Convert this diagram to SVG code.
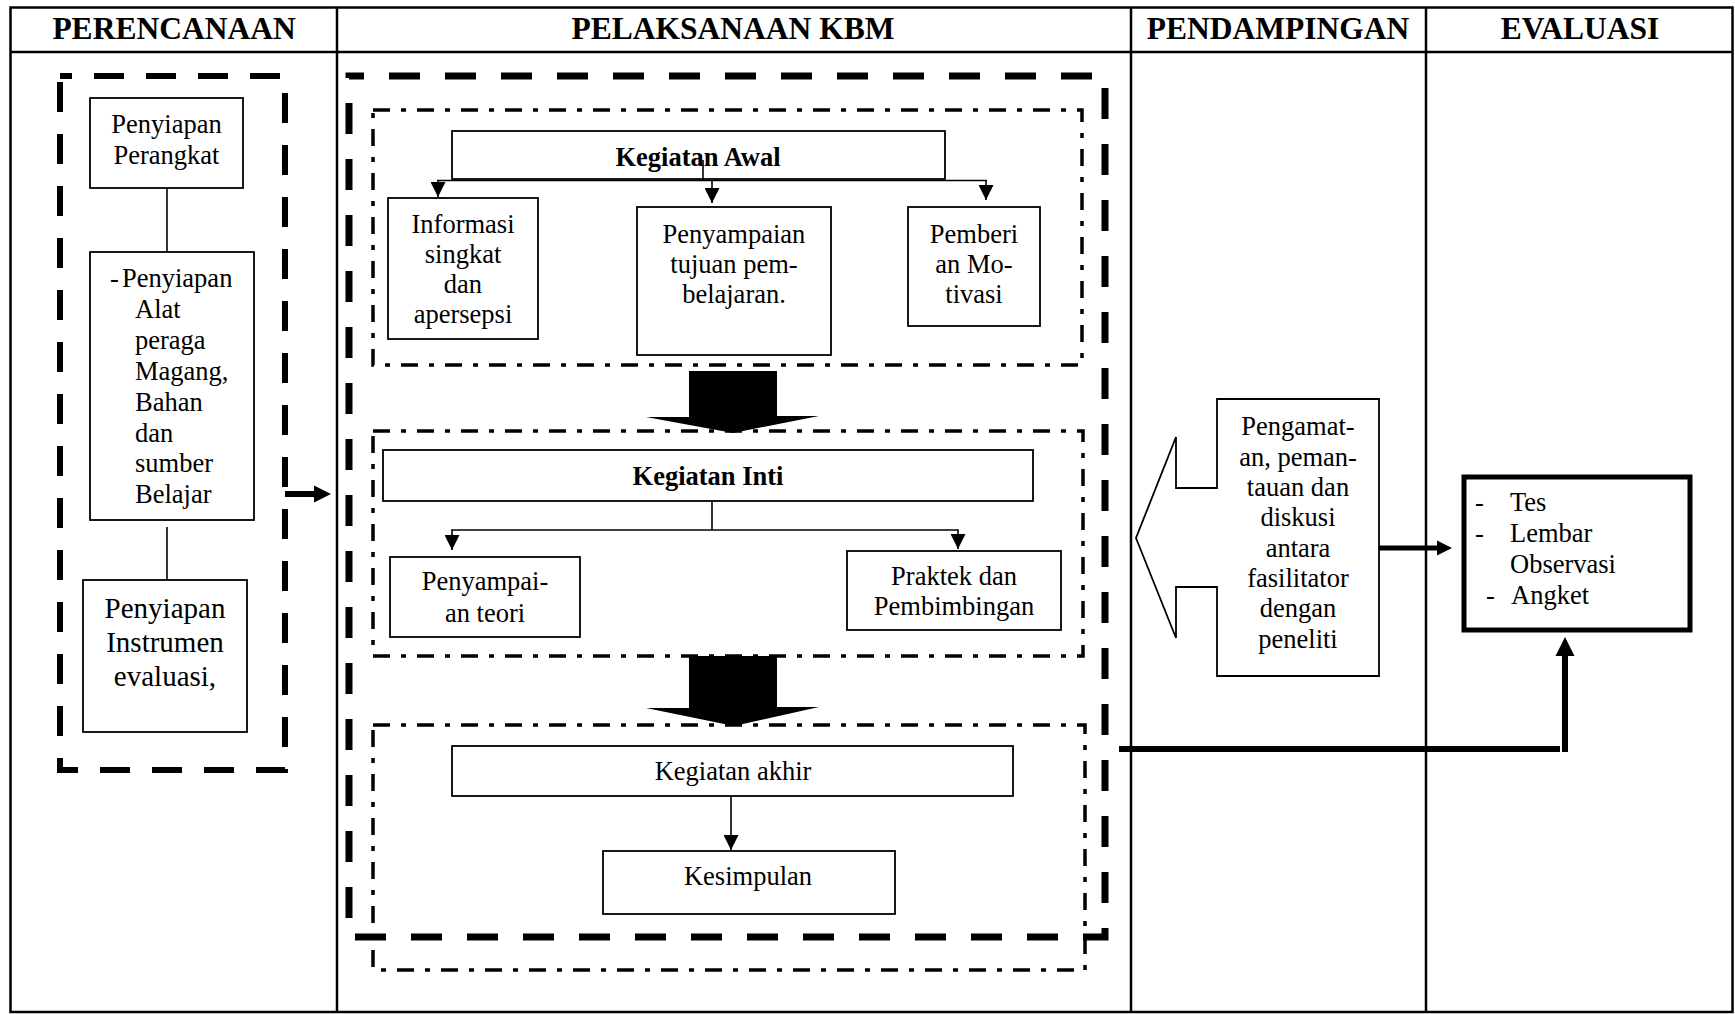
<svg xmlns="http://www.w3.org/2000/svg" width="1735" height="1014" viewBox="0 0 1735 1014">
<defs>
<style>
.t{font-family:"Liberation Serif","Times New Roman",serif;font-size:26.5px;fill:#000;text-anchor:middle}
.tl{text-anchor:start}
.b{font-weight:bold}
.h{font-family:"Liberation Serif","Times New Roman",serif;font-size:31.5px;font-weight:bold;fill:#000;text-anchor:middle}
.box{fill:#fff;stroke:#000;stroke-width:1.8}
.grid{fill:none;stroke:#000;stroke-width:2.5}
.thin{fill:none;stroke:#000;stroke-width:1.6}
.dd{fill:none;stroke:#000;stroke-width:3.5;stroke-dasharray:17 11 5 11}
.dashL{fill:none;stroke:#000;stroke-width:6;stroke-dasharray:30 22}
.dashB{fill:none;stroke:#000;stroke-width:7;stroke-dasharray:31 25}
.thick{fill:none;stroke:#000;stroke-width:6}
</style>
<marker id="ah" markerUnits="userSpaceOnUse" markerWidth="15" markerHeight="15" refX="15" refY="7.5" orient="auto">
<path d="M0,0 L15,7.5 L0,15 z" fill="#000"/>
</marker>
</defs>
<rect width="1735" height="1014" fill="#fff"/>

<g id="table">
<rect class="grid" x="10.5" y="7.5" width="1722" height="1004.5"/>
<line class="grid" x1="10.5" y1="52" x2="1732.5" y2="52"/>
<line class="grid" x1="337" y1="7.5" x2="337" y2="1012"/>
<line class="grid" x1="1131" y1="7.5" x2="1131" y2="1012"/>
<line class="grid" x1="1426" y1="7.5" x2="1426" y2="1012"/>
<text class="h" x="174" y="39">PERENCANAAN</text>
<text class="h" x="733" y="39">PELAKSANAAN KBM</text>
<text class="h" x="1278" y="39">PENDAMPINGAN</text>
<text class="h" x="1580" y="39">EVALUASI</text>
</g>

<g id="groups">
<rect class="dashL" x="60" y="76" width="225" height="694" stroke-dashoffset="18"/>
<rect class="dashB" x="349" y="76" width="756" height="861" stroke-dashoffset="16"/>
<rect class="dd" x="373" y="110" width="709" height="255"/>
<rect class="dd" x="373" y="431" width="710" height="225"/>
<rect class="dd" x="373" y="725" width="712" height="245"/>
</g>

<g id="connectors">
<line class="thin" x1="167" y1="188" x2="167" y2="252"/>
<line class="thin" x1="167" y1="527" x2="167" y2="580"/>
<line class="thick" x1="285" y1="494" x2="315" y2="494"/>
<polygon points="314,485.5 331,494 314,502.5" fill="#000"/>
<line class="thin" x1="703" y1="167" x2="703" y2="180.5"/>
<line class="thin" x1="437.2" y1="180.5" x2="986.8" y2="180.5"/>
<line class="thin" x1="438" y1="180" x2="438" y2="197" marker-end="url(#ah)"/>
<line class="thin" x1="712" y1="180" x2="712" y2="203" marker-end="url(#ah)"/>
<line class="thin" x1="986" y1="180" x2="986" y2="200" marker-end="url(#ah)"/>
<polygon points="689,371 777,371 777,416 819,416 733,433 646,417 689,417" fill="#000"/>
<line class="thin" x1="712" y1="501" x2="712" y2="530"/>
<line class="thin" x1="451.2" y1="530" x2="958.8" y2="530"/>
<line class="thin" x1="452" y1="530" x2="452" y2="550" marker-end="url(#ah)"/>
<line class="thin" x1="958" y1="530" x2="958" y2="549" marker-end="url(#ah)"/>
<polygon points="689,656 777,656 777,707 819,707 734,726 646,708 689,708" fill="#000"/>
<line class="thin" x1="731" y1="796" x2="731" y2="850" marker-end="url(#ah)"/>
<line stroke="#000" stroke-width="5" x1="1379" y1="548" x2="1438" y2="548"/>
<polygon points="1437,540.5 1452,548 1437,555.5" fill="#000"/>
<line class="thick" x1="1119" y1="749" x2="1560" y2="749"/>
<line class="thick" x1="1565" y1="752" x2="1565" y2="655"/>
<polygon points="1555.5,656 1565,637 1574.5,656" fill="#000"/>
</g>

<g id="n-perangkat">
<rect class="box" x="90" y="98" width="153" height="90"/>
<text class="t" x="166.5" y="133">Penyiapan</text>
<text class="t" x="166.5" y="164">Perangkat</text>
</g>
<g id="n-alat">
<rect class="box" x="90" y="252" width="164" height="268"/>
<text class="t tl" x="110" y="287">-</text>
<text class="t tl" x="122" y="287">Penyiapan</text>
<text class="t tl" x="135" y="318">Alat</text>
<text class="t tl" x="135" y="349">peraga</text>
<text class="t tl" x="135" y="380">Magang,</text>
<text class="t tl" x="135" y="411">Bahan</text>
<text class="t tl" x="135" y="442">dan</text>
<text class="t tl" x="135" y="472">sumber</text>
<text class="t tl" x="135" y="503">Belajar</text>
</g>
<g id="n-instrumen">
<rect class="box" x="83" y="580" width="164" height="152"/>
<text class="t" style="font-size:29px" x="165" y="618">Penyiapan</text>
<text class="t" style="font-size:29px" x="165" y="652">Instrumen</text>
<text class="t" style="font-size:29px" x="165" y="686">evaluasi,</text>
</g>

<g id="n-awal">
<rect class="box" x="452" y="131" width="493" height="48"/>
<text class="t b" x="698" y="166">Kegiatan Awal</text>
<line class="thin" x1="703" y1="160" x2="703" y2="179"/>
</g>
<g id="n-informasi">
<rect class="box" x="388" y="198" width="150" height="141"/>
<text class="t" x="463" y="233">Informasi</text>
<text class="t" x="463" y="263">singkat</text>
<text class="t" x="463" y="293">dan</text>
<text class="t" x="463" y="323">apersepsi</text>
</g>
<g id="n-tujuan">
<rect class="box" x="637" y="207" width="194" height="148"/>
<text class="t" x="734" y="243">Penyampaian</text>
<text class="t" x="734" y="273">tujuan pem-</text>
<text class="t" x="734" y="303">belajaran.</text>
</g>
<g id="n-motivasi">
<rect class="box" x="908" y="207" width="132" height="119"/>
<text class="t" x="974" y="243">Pemberi</text>
<text class="t" x="974" y="273">an Mo-</text>
<text class="t" x="974" y="303">tivasi</text>
</g>
<g id="n-inti">
<rect class="box" x="383" y="450" width="650" height="51"/>
<text class="t b" x="708" y="485">Kegiatan Inti</text>
</g>
<g id="n-teori">
<rect class="box" x="390" y="557" width="190" height="80"/>
<text class="t" x="485" y="590">Penyampai-</text>
<text class="t" x="485" y="622">an teori</text>
</g>
<g id="n-praktek">
<rect class="box" x="847" y="551" width="214" height="79"/>
<text class="t" x="954" y="585">Praktek dan</text>
<text class="t" x="954" y="615">Pembimbingan</text>
</g>
<g id="n-akhir">
<rect class="box" x="452" y="746" width="561" height="50"/>
<text class="t" x="733" y="780">Kegiatan akhir</text>
</g>
<g id="n-kesimpulan">
<rect class="box" x="603" y="851" width="292" height="63"/>
<text class="t" x="748" y="885">Kesimpulan</text>
</g>

<g id="n-pendampingan">
<polygon class="box" points="1217,399 1379,399 1379,676 1217,676 1217,587 1176,587 1176,638 1136,538 1176,437 1176,488 1217,488"/>
<text class="t" x="1298" y="435">Pengamat-</text>
<text class="t" x="1298" y="466">an, peman-</text>
<text class="t" x="1298" y="496">tauan dan</text>
<text class="t" x="1298" y="526">diskusi</text>
<text class="t" x="1298" y="557">antara</text>
<text class="t" x="1298" y="587">fasilitator</text>
<text class="t" x="1298" y="617">dengan</text>
<text class="t" x="1298" y="648">peneliti</text>
</g>

<g id="n-evaluasi">
<rect x="1464" y="477" width="226" height="153" fill="#fff" stroke="#000" stroke-width="5"/>
<text class="t tl" x="1475" y="511">-</text>
<text class="t tl" x="1510" y="511">Tes</text>
<text class="t tl" x="1475" y="542">-</text>
<text class="t tl" x="1510" y="542">Lembar</text>
<text class="t tl" x="1510" y="573">Observasi</text>
<text class="t tl" x="1486" y="604">-</text>
<text class="t tl" x="1511" y="604">Angket</text>
</g>
</svg>
